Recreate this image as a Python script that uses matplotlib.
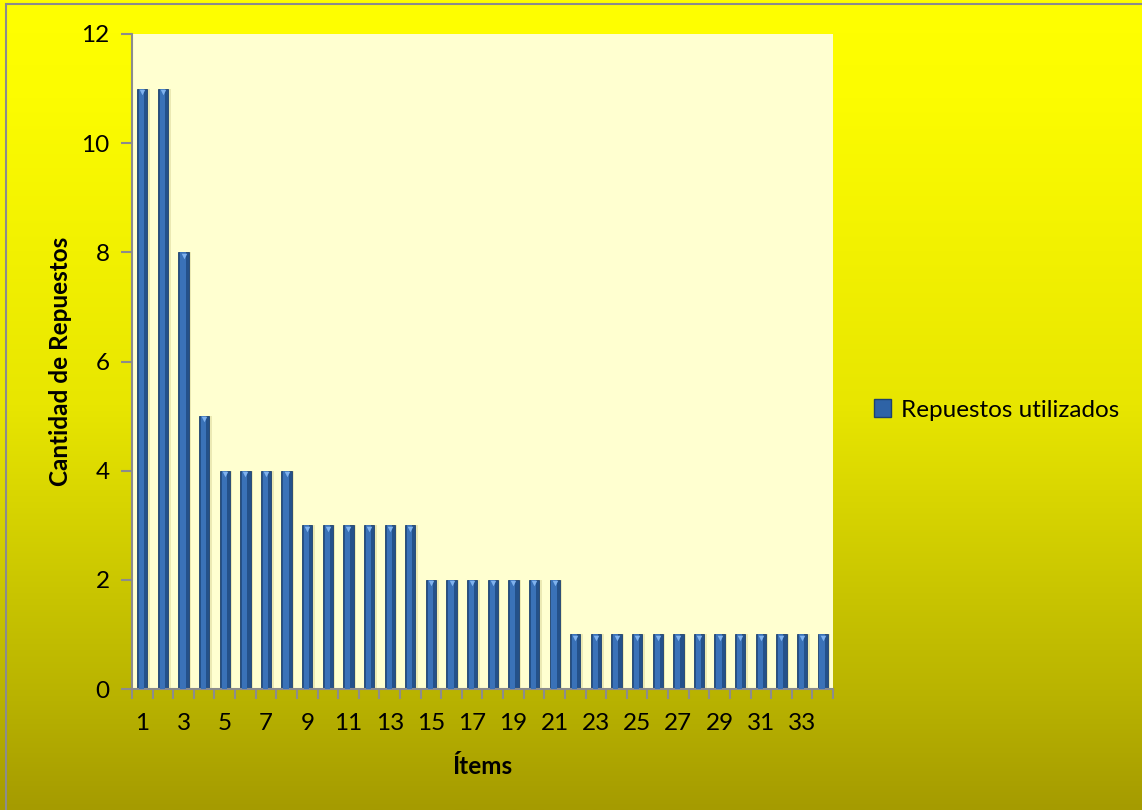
import matplotlib
matplotlib.use("Agg")
import matplotlib.pyplot as plt
from matplotlib.patches import Rectangle, Patch
import numpy as np

# repuestos utilizados por ítem
items = list(range(1, 35))
repuestos = [11, 11, 8, 5, 4, 4, 4, 4, 3, 3, 3, 3, 3, 3,
             2, 2, 2, 2, 2, 2, 2,
             1, 1, 1, 1, 1, 1, 1, 1, 1, 1, 1, 1, 1]
y_ticks = [0, 2, 4, 6, 8, 10, 12]

plt.rcParams['font.family'] = ['Lato', 'DejaVu Sans']
fs = 17.5

fig = plt.figure(figsize=(11.42, 8.10), dpi=100)

# fondo amarillo degradado
bg = fig.add_axes([0, 0, 1, 1], zorder=-10)
stops_y = [0.0, 0.12, 0.5, 0.74, 0.86, 1.0]
stops_r = [255, 252, 232, 200, 185, 165]
stops_g = [255, 252, 230, 196, 179, 155]
yy = np.linspace(0, 1, 400)
grad = np.zeros((400, 1, 3))
grad[:, 0, 0] = np.interp(yy, stops_y, stops_r) / 255
grad[:, 0, 1] = np.interp(yy, stops_y, stops_g) / 255
bg.imshow(grad, aspect='auto', extent=[0, 1, 0, 1], origin='upper')
bg.add_patch(Rectangle((6 / 1142, -0.1), 1.2, 1 - 4 / 810 + 0.1,
                       fill=False, edgecolor='#8c8c8c', linewidth=1.5))
bg.set_xlim(0, 1)
bg.set_ylim(0, 1)
bg.axis('off')

ax = fig.add_axes([132 / 1142, 1 - 689 / 810, 701 / 1142, 655 / 810])
ax.set_facecolor('#ffffd0')

x = np.array(items)
w = 0.5
# sombra, base oscura y brillo central
ax.bar(x + 0.12, repuestos, width=w, color='#b0a860', alpha=0.25, zorder=1)
ax.bar(x, repuestos, width=w, color='#24518a', edgecolor='#1d416f', linewidth=0.6, zorder=2)
ax.bar(x - 0.03, repuestos, width=w * 0.5, color='#3a72b8', linewidth=0, zorder=3)
ax.scatter(x, np.array(repuestos) - 0.06, marker='v', s=16, color='#7fb2ee', linewidths=0, zorder=4)

ax.set_xlim(0.5, 34.5)
ax.set_ylim(0, 12)
ax.set_yticks(y_ticks)
ax.set_xticks(items[::2])
ax.set_xticks(np.arange(0.5, 35, 1), minor=True)
ax.tick_params(axis='x', which='major', length=0, pad=17, labelsize=fs)
ax.tick_params(axis='x', which='minor', length=7, width=1.5, color='#8c8c8c')
ax.tick_params(axis='y', length=8, width=1.5, color='#8c8c8c', pad=8, labelsize=fs)

for s in ['top', 'right']:
    ax.spines[s].set_visible(False)
for s in ['left', 'bottom']:
    ax.spines[s].set_color('#8c8c8c')
    ax.spines[s].set_linewidth(1.5)

ax.set_xlabel('Ítems', fontsize=fs, fontweight='bold', va='center')
ax.xaxis.set_label_coords(0.5, (689 - 766) / 655)
ax.set_ylabel('Cantidad de Repuestos', fontsize=fs, fontweight='bold', va='center')
ax.yaxis.set_label_coords((60 - 132) / 701, 0.5)

handle = Patch(facecolor='#2e63a6', edgecolor='#1d416f', label='Repuestos utilizados')
fig.legend(handles=[handle], loc='center left', bbox_to_anchor=(874 / 1142, 1 - 410 / 810),
           frameon=False, fontsize=fs, handlelength=0.7, handleheight=0.7, handletextpad=0.4,
           borderpad=0, borderaxespad=0)

fig.savefig('out.png', dpi=100)
